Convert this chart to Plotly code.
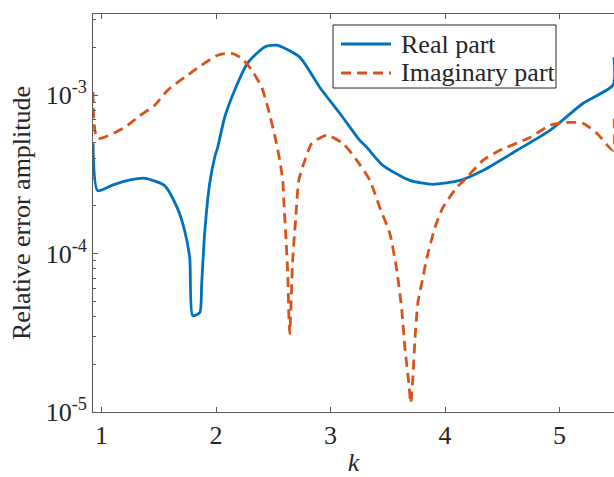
import plotly.graph_objects as go

# Wavenumber samples and relative error amplitudes
k_real = [0.925, 0.965, 1.10, 1.25, 1.38, 1.55, 1.66, 1.725, 1.77, 1.795, 1.857, 1.874,
          1.90, 1.944, 1.988, 2.014, 2.075, 2.163, 2.276, 2.425, 2.53, 2.73, 2.906,
          3.08, 3.255, 3.316, 3.456, 3.692, 3.893, 4.13, 4.33, 4.628, 4.916, 5.205,
          5.467, 5.475]
err_real = [4.97e-4, 2.5e-4, 2.72e-4, 2.92e-4, 2.99e-4, 2.69e-4, 1.95e-4, 1.40e-4,
            9.4e-5, 4.06e-5, 4.24e-5, 6.45e-5, 1.34e-4, 2.77e-4, 4.06e-4, 4.69e-4,
            7.26e-4, 1.08e-3, 1.60e-3, 2.02e-3, 2.07e-3, 1.74e-3, 1.12e-3, 7.7e-4,
            5.19e-4, 4.69e-4, 3.61e-4, 2.90e-4, 2.74e-4, 2.90e-4, 3.35e-4, 4.49e-4,
            6.0e-4, 8.9e-4, 1.16e-3, 1.74e-3]

k_imag = [0.925, 0.965, 1.201, 1.315, 1.463, 1.577, 1.726, 1.874, 2.014, 2.136, 2.224,
          2.311, 2.399, 2.451, 2.512, 2.556, 2.582, 2.591, 2.608, 2.626, 2.635, 2.643,
          2.67, 2.696, 2.722, 2.775, 2.836, 2.967, 3.107, 3.229, 3.343, 3.43, 3.517,
          3.579, 3.622, 3.649, 3.684, 3.70, 3.718, 3.736, 3.762, 3.797, 3.841, 3.911,
          3.98, 4.103, 4.19, 4.33, 4.479, 4.741, 4.916, 5.065, 5.205, 5.327, 5.467,
          5.475]
err_imag = [1.045e-3, 5.34e-4, 6.26e-4, 7.26e-4, 8.65e-4, 1.076e-3, 1.30e-3, 1.55e-3,
            1.79e-3, 1.84e-3, 1.71e-3, 1.44e-3, 1.12e-3, 8.4e-4, 5.58e-4, 3.88e-4,
            2.90e-4, 2.16e-4, 1.34e-4, 7.47e-5, 4.17e-5, 3.12e-5, 9.4e-5, 1.69e-4,
            2.90e-4, 3.88e-4, 4.97e-4, 5.58e-4, 4.97e-4, 3.88e-4, 2.90e-4, 1.95e-4,
            1.34e-4, 7.8e-5, 4.36e-5, 2.54e-5, 1.50e-5, 1.14e-5, 1.62e-5, 2.81e-5,
            4.9e-5, 6.55e-5, 9.4e-5, 1.46e-4, 1.95e-4, 2.62e-4, 3.03e-4, 3.88e-4,
            4.49e-4, 5.42e-4, 6.45e-4, 6.74e-4, 6.65e-4, 5.74e-4, 4.49e-4, 7.8e-4]

series_names = ["Real part", "Imaginary part"]
x_ticks = [1, 2, 3, 4, 5]
y_ticks = [1e-5, 1e-4, 1e-3]
y_tick_text = ["10<sup>-5</sup>", "10<sup>-4</sup>", "10<sup>-3</sup>"]

FONT = "Times New Roman, Liberation Serif, serif"
AXIS_COLOR = "#5a5a5a"
TEXT_COLOR = "#262626"
BLUE = "#0072BD"
ORANGE = "#D95319"
LW = 2.8
DASH = "10px,6px"

fig = go.Figure()
fig.add_trace(go.Scatter(x=k_real, y=err_real, mode="lines", name=series_names[0],
                         line=dict(color=BLUE, width=LW, shape="spline", smoothing=0.6)))
fig.add_trace(go.Scatter(x=k_imag, y=err_imag, mode="lines", name=series_names[1],
                         line=dict(color=ORANGE, width=LW, dash=DASH,
                                   shape="spline", smoothing=0.6)))

# Compact boxed key in the upper middle of the axes (paper coordinates)
box_x0, box_x1, box_y0, box_y1 = 0.4607, 0.8887, 0.814, 0.9724
sample_x0, sample_x1, label_x = 0.476, 0.572, 0.5875
row_y = [0.9246, 0.8518]
styles = [dict(color=BLUE, width=LW), dict(color=ORANGE, width=LW, dash=DASH)]

fig.add_shape(type="rect", xref="paper", yref="paper",
              x0=box_x0, x1=box_x1, y0=box_y0, y1=box_y1,
              fillcolor="white", line=dict(color=TEXT_COLOR, width=1), layer="above")
for name, yy, st in zip(series_names, row_y, styles):
    fig.add_shape(type="line", xref="paper", yref="paper",
                  x0=sample_x0, x1=sample_x1, y0=yy, y1=yy, line=st, layer="above")
    fig.add_annotation(xref="paper", yref="paper", x=label_x, y=yy,
                       xanchor="left", yanchor="middle", text=name, showarrow=False,
                       font=dict(family=FONT, size=26, color=TEXT_COLOR))

fig.update_layout(
    width=614, height=477,
    margin=dict(l=93, r=0, t=14, b=65),
    paper_bgcolor="white", plot_bgcolor="white",
    font=dict(family=FONT, size=26, color=TEXT_COLOR),
    showlegend=False,
    xaxis=dict(
        range=[0.925, 5.475],
        tickvals=x_ticks, ticktext=[str(v) for v in x_ticks],
        tickfont=dict(family=FONT, size=26),
        ticks="inside", ticklen=5, tickcolor=AXIS_COLOR,
        showline=True, linecolor=AXIS_COLOR, linewidth=1, mirror="ticks",
        showgrid=False, zeroline=False,
        title=dict(text="<i>k</i>", font=dict(family=FONT, size=26), standoff=6),
    ),
    yaxis=dict(
        type="log", range=[-5, -2.487],
        tickvals=y_ticks, ticktext=y_tick_text,
        tickfont=dict(family=FONT, size=26),
        ticks="inside", ticklen=5, tickcolor=AXIS_COLOR,
        minor=dict(ticks="inside", ticklen=3, tickcolor=AXIS_COLOR, dtick="D1", showgrid=False),
        showline=True, linecolor=AXIS_COLOR, linewidth=1, mirror=False,
        showgrid=False, zeroline=False,
        title=dict(text="Relative error amplitude", font=dict(family=FONT, size=26), standoff=7),
    ),
)

fig.write_html("out.html")
